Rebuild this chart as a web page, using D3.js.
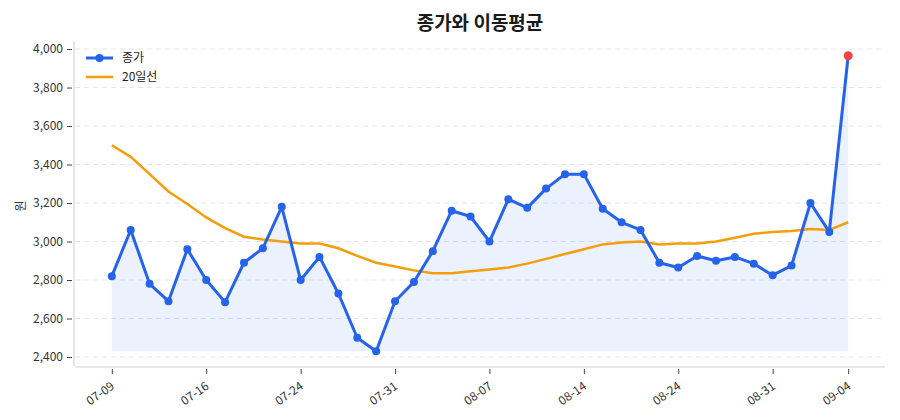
<!DOCTYPE html>
<html><head><meta charset="utf-8">
<script src="https://cdn.jsdelivr.net/npm/d3@7"></script>
<style>
html,body{margin:0;padding:0;background:#fff;}
svg text{font-family:"Noto Sans CJK KR","Noto Sans",sans-serif;}
</style></head>
<body><svg id="c" width="900" height="420"></svg>
<script>
const dates = ["07-09","07-10","07-11","07-14","07-15","07-16","07-17","07-18","07-21","07-22",
 "07-24","07-25","07-28","07-29","07-30","07-31","08-01","08-04","08-05","08-06",
 "08-07","08-08","08-11","08-12","08-13","08-14","08-18","08-19","08-20","08-21",
 "08-24","08-25","08-26","08-27","08-28","08-31","09-01","09-02","09-03","09-04"];
const close = [2820,3060,2780,2690,2960,2800,2685,2890,2965,3180,
 2800,2920,2730,2500,2430,2690,2790,2950,3160,3130,
 3000,3220,3175,3275,3350,3350,3170,3100,3060,2890,
 2865,2925,2900,2920,2885,2825,2875,3200,3050,3965];
const ma20 = [3500,3440,3350,3260,3195,3125,3070,3025,3010,3000,
 2990,2990,2965,2925,2890,2870,2850,2835,2835,2845,
 2855,2865,2885,2910,2935,2960,2985,2995,3000,2985,
 2990,2990,3000,3020,3040,3050,3055,3065,3060,3100];
const tickIdx = [0,5,10,15,20,25,30,35,39];
const yTicks = [2400,2600,2800,3000,3200,3400,3600,3800,4000];

const svg = d3.select("#c");
const L=75, R=885, T=41, B=366;
const n = close.length;
const pad = (n-1)*0.05;
const x = d3.scaleLinear().domain([-pad, n-1+pad]).range([L,R]);
const mn = d3.min(close), mx = d3.max(close), rg = mx-mn;
const y = d3.scaleLinear().domain([mn-rg*0.05, mx+rg*0.05]).range([B,T]);

// grid
svg.append("g").selectAll("line").data(yTicks).join("line")
  .attr("x1",L).attr("x2",R).attr("y1",d=>y(d)).attr("y2",d=>y(d))
  .attr("stroke","#e3e5e8").attr("stroke-width",1).attr("stroke-dasharray","5,4");

// area
const area = d3.area().x((d,i)=>x(i)).y0(y(mn)).y1(d=>y(d));
svg.append("path").datum(close).attr("d",area).attr("fill","#2563eb").attr("fill-opacity",0.09);

// axes
const yAxis = d3.axisLeft(y).tickValues(yTicks).tickFormat(d3.format(",")).tickSize(5).tickPadding(4);
const gy = svg.append("g").attr("transform",`translate(${L-1},0)`).call(yAxis);
gy.select(".domain").attr("stroke","#dcdfe4").attr("stroke-width",1.5).attr("d",`M0,${T}V${B}`);
gy.selectAll(".tick line").attr("stroke","#444").attr("transform","translate(-2,0)");
gy.selectAll(".tick text").attr("fill","#333").style("font-size","12px").attr("dx","-2");

const xAxis = d3.axisBottom(x).tickValues(tickIdx).tickFormat(i=>dates[i]).tickSize(5);
const gx = svg.append("g").attr("transform",`translate(0,${B+1})`).call(xAxis);
gx.select(".domain").attr("stroke","#dcdfe4").attr("stroke-width",1.5).attr("d",`M${L},0H${R}`);
gx.selectAll(".tick line").attr("stroke","#444").attr("y1",2).attr("y2",7);
gx.selectAll(".tick text").attr("fill","#333").style("font-size","12px")
  .attr("text-anchor","end").attr("dy",0).attr("dx",0).attr("y",0)
  .attr("transform","translate(3,21) rotate(-35)");

// MA line
svg.append("path").datum(ma20)
  .attr("d",d3.line().x((d,i)=>x(i)).y(d=>y(d)))
  .attr("fill","none").attr("stroke","#f59e0b").attr("stroke-width",2.5);

// close line
svg.append("path").datum(close)
  .attr("d",d3.line().x((d,i)=>x(i)).y(d=>y(d)))
  .attr("fill","none").attr("stroke","#2563eb").attr("stroke-width",3).attr("stroke-linejoin","round");
svg.append("g").selectAll("circle").data(close.slice(0,n-1)).join("circle")
  .attr("cx",(d,i)=>x(i)).attr("cy",d=>y(d)).attr("r",4).attr("fill","#2563eb");
svg.append("circle").attr("cx",x(n-1)).attr("cy",y(close[n-1])).attr("r",4.5).attr("fill","#ef4444");

// title
svg.append("text").attr("x",(L+R)/2).attr("y",30).attr("text-anchor","middle")
  .style("font-size","19px").style("font-weight","bold").attr("fill","#1a1a1a").text("종가와 이동평균");
// y label
svg.append("text").attr("transform","translate(25,206) rotate(-90)").attr("text-anchor","middle")
  .style("font-size","12px").attr("fill","#333").text("원");

// legend
const lg = svg.append("g");
lg.append("line").attr("x1",86).attr("x2",113).attr("y1",58).attr("y2",58).attr("stroke","#2563eb").attr("stroke-width",3);
lg.append("circle").attr("cx",99.5).attr("cy",58).attr("r",4).attr("fill","#2563eb");
lg.append("text").attr("x",122).attr("y",62).style("font-size","12px").attr("fill","#222").text("종가");
lg.append("line").attr("x1",86).attr("x2",113).attr("y1",77).attr("y2",77).attr("stroke","#f59e0b").attr("stroke-width",2.5);
lg.append("text").attr("x",122).attr("y",81).style("font-size","12px").attr("fill","#222").text("20일선");
</script></body></html>
